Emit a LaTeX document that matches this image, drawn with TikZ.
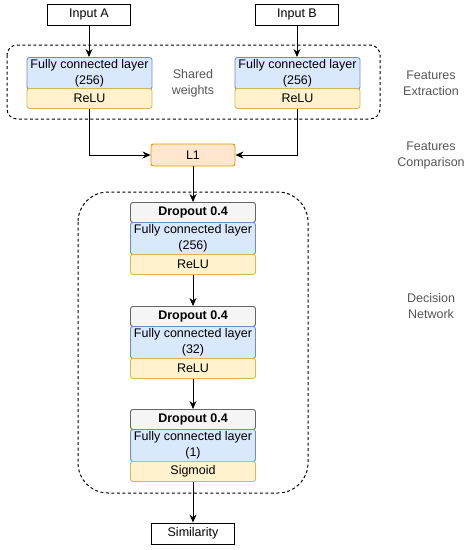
\documentclass[tikz,border=0pt]{standalone}
\usepackage{fontspec}
\setmainfont{Liberation Sans}
\usetikzlibrary{arrows.meta}
\definecolor{bluef}{HTML}{DAE8FC}\definecolor{blued}{HTML}{6C8EBF}
\definecolor{yelf}{HTML}{FFF2CC}\definecolor{yeld}{HTML}{D6B656}
\definecolor{greyf}{HTML}{F5F5F5}\definecolor{greyd}{HTML}{666666}
\definecolor{orf}{HTML}{FFE6CC}\definecolor{ord}{HTML}{D79B00}
\definecolor{labc}{HTML}{555555}
\tikzset{
  base/.style={inner sep=0pt, font=\fontsize{12.5}{15.5}\selectfont, align=center, rounded corners=2.5pt, line width=0.9pt},
  fcbox/.style={base, draw=blued, fill=bluef, minimum width=125pt, minimum height=32pt},
  relubox/.style={base, draw=yeld, fill=yelf, minimum width=125pt, minimum height=20pt},
  dropbox/.style={base, draw=greyd, fill=greyf, minimum width=125pt, minimum height=20pt, font=\fontsize{12.5}{15}\selectfont\bfseries},
  iobox/.style={inner sep=0pt, draw, fill=white, line width=0.9pt, minimum width=83pt, minimum height=21pt, font=\fontsize{12.5}{15}\selectfont},
  l1box/.style={base, draw=ord, fill=orf, minimum width=84pt, minimum height=22pt},
  sidelab/.style={font=\fontsize{12.5}{16}\selectfont, text=labc, align=center},
  arr/.style={-{Stealth[length=8pt,width=7pt]}, line width=0.9pt},
  dashbox/.style={dashed, dash pattern=on 3pt off 2.5pt, line width=1pt},
}
\begin{document}
\begin{tikzpicture}[x=1pt,y=-1pt]
\useasboundingbox (0,0) rectangle (470,550);
% top dashed box
\draw[dashbox, rounded corners=10pt] (7,45) rectangle (380,119);
% decision dashed box
\draw[dashbox, rounded corners=30pt] (78,192) rectangle (308,493);

\node[iobox] (ina) at (89,14.5) {Input A};
\node[iobox] (inb) at (297,14.5) {Input B};

\node[fcbox, anchor=north] (fca) at (89.5,57) {Fully connected layer\\(256)};
\node[relubox, anchor=north] (rla) at (89.5,88) {ReLU};
\node[fcbox, anchor=north] (fcb) at (297.5,57) {Fully connected layer\\(256)};
\node[relubox, anchor=north] (rlb) at (297.5,88) {ReLU};
\node[sidelab] (sw) at (193,83) {Shared\\weights};

\node[l1box] (l1) at (193,155) {L1};

\node[dropbox, anchor=north] (d1) at (193,202) {Dropout 0.4};
\node[fcbox, anchor=north] (f1) at (193,222) {Fully connected layer\\(256)};
\node[relubox, anchor=north] (r1) at (193,254) {ReLU};

\node[dropbox, anchor=north] (d2) at (193,306) {Dropout 0.4};
\node[fcbox, anchor=north] (f2) at (193,326) {Fully connected layer\\(32)};
\node[relubox, anchor=north] (r2) at (193,358) {ReLU};

\node[dropbox, anchor=north] (d3) at (193,409) {Dropout 0.4};
\node[fcbox, anchor=north] (f3) at (193,429) {Fully connected layer\\(1)};
\node[relubox, anchor=north] (r3) at (193,461) {Sigmoid};

\node[iobox] (sim) at (193,533.5) {Similarity};

\node[sidelab] (fe) at (431,83) {Features\\Extraction};
\node[sidelab] (fc) at (431,155) {Features\\Comparison};
\node[sidelab] (dn) at (431,306) {Decision\\Network};

\draw[arr] (ina.south) -- (ina.south |- fca.north);
\draw[arr] (inb.south) -- (inb.south |- fcb.north);
\draw[arr] (ina.south |- rla.south) |- (l1.west);
\draw[arr] (inb.south |- rlb.south) |- (l1.east);
\draw[arr] (l1.south) -- (d1.north);
\draw[arr] (r1.south) -- (d2.north);
\draw[arr] (r2.south) -- (d3.north);
\draw[arr] (r3.south) -- (sim.north);
\end{tikzpicture}
\end{document}
